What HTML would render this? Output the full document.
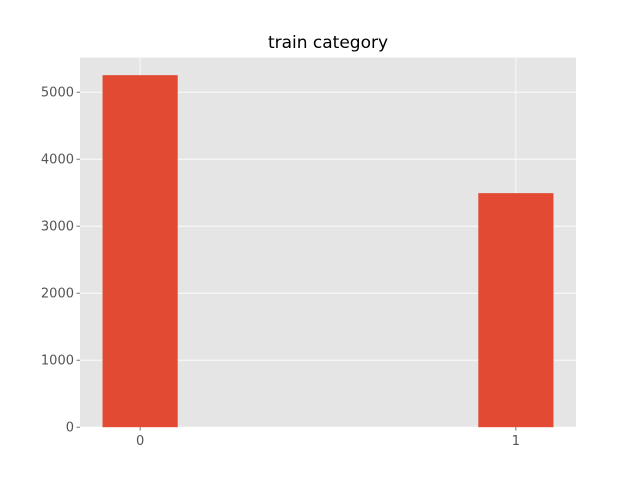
<!DOCTYPE html>
<html><head><meta charset="utf-8"><style>
body{margin:0;background:#fff}
svg text{font-family:"DejaVu Sans","Liberation Sans",sans-serif}
</style></head><body>
<svg id="chart" width="640" height="480">
<rect x="80" y="57.6" width="496" height="369.6" fill="#E5E5E5"/>
<g id="grid"></g><g id="bars"></g><g id="ticks"></g>
<text x="328" y="48" text-anchor="middle" font-size="17" fill="#000">train category</text>
</svg>
<script>
const categories=["0","1"];
const counts=[5254,3493];
const yTicks=[0,1000,2000,3000,4000,5000];
const L=80,R=576,T=57.6,B=427.2;
const xmin=-0.16,xmax=1.16,ymin=0,ymax=5516;
const xs=v=>L+(v-xmin)/(xmax-xmin)*(R-L);
const ys=v=>B-(v-ymin)/(ymax-ymin)*(B-T);
const NS="http://www.w3.org/2000/svg";
function mk(t,a,p){const e=document.createElementNS(NS,t);for(const k in a)e.setAttribute(k,a[k]);document.getElementById(p).appendChild(e);return e;}
yTicks.forEach(v=>{
 const g=mk('line',{x1:L,x2:R,y1:ys(v),y2:ys(v),stroke:'#fff','stroke-width':0.8},'grid');
 
 
 const tk=mk('line',{x1:L-3.5,x2:L,y1:ys(v),y2:ys(v),stroke:'#555','stroke-width':0.8},'ticks');
 
 
 const t=mk('text',{x:L-6,y:ys(v)+4.5,'text-anchor':'end','font-size':13,fill:'#555'},'ticks');
 t.textContent=v;
 
 
});
categories.forEach((c,i)=>{
 const g=mk('line',{x1:xs(i),x2:xs(i),y1:T,y2:B,stroke:'#fff','stroke-width':0.8},'grid');
 
 
 const w=xs(0.1)-xs(-0.1);
 const b=mk('rect',{x:xs(i)-w/2,y:ys(counts[i]),width:w,height:B-ys(counts[i]),fill:'#E24A33'},'bars');
 
 
 const tk=mk('line',{x1:xs(i),x2:xs(i),y1:B,y2:B+3.5,stroke:'#555','stroke-width':0.8},'ticks');
 
 
 const t=mk('text',{x:xs(i),y:B+18,'text-anchor':'middle','font-size':13,fill:'#555'},'ticks');
 t.textContent=c;
 
 
});
</script>
</body></html>
